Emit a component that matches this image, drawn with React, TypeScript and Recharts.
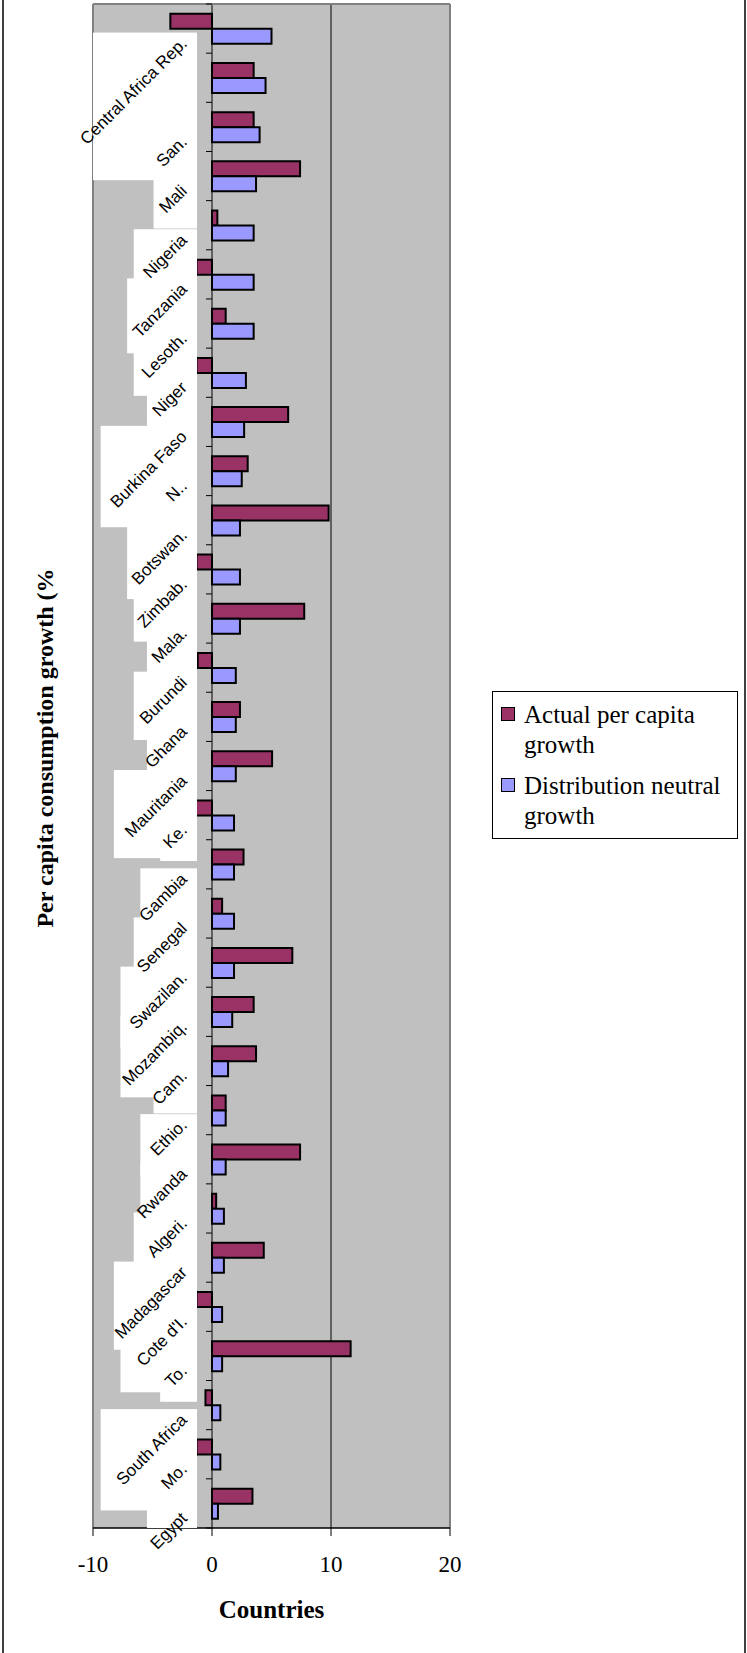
import React from 'react';
import { BarChart, Bar, XAxis, YAxis, CartesianGrid, ReferenceLine, Legend } from 'recharts';

// ---- data (top category first) ----
const tickLabels = [
  'Central Africa Rep.', '', 'San.', 'Mali', 'Nigeria', 'Tanzania', 'Lesoth.', 'Niger',
  'Burkina Faso', 'N..', 'Botswan.', 'Zimbab.', 'Mala.', 'Burundi', 'Ghana', 'Mauritania',
  'Ke.', 'Gambia', 'Senegal', 'Swazilan.', 'Mozambiq.', 'Cam.', 'Ethio.', 'Rwanda',
  'Algeri.', 'Madagascar', "Cote d'I.", 'To.', 'South Africa', 'Mo.', 'Egypt',
];
const actualGrowth = [
  -3.5, 3.5, 3.5, 7.4, 0.45, -1.3, 1.15, -1.3, 6.4, 3.0, 9.8, -1.3, 7.75, -1.2, 2.35, 5.05,
  -1.45, 2.65, 0.85, 6.75, 3.5, 3.7, 1.15, 7.4, 0.35, 4.35, -1.3, 11.65, -0.55, -1.3, 3.4,
];
const neutralGrowth = [
  5.0, 4.5, 4.0, 3.7, 3.5, 3.5, 3.5, 2.85, 2.7, 2.5, 2.35, 2.35, 2.35, 2.0, 2.0, 2.0,
  1.85, 1.85, 1.85, 1.85, 1.7, 1.35, 1.15, 1.15, 1.0, 1.0, 0.85, 0.85, 0.7, 0.7, 0.5,
];
const xTicks = [-10, 0, 10, 20];
const seriesNames = ['Actual per capita growth', 'Distribution neutral growth'];
const xTitle = 'Countries';
const yTitle = 'Per capita consumption growth (%';

const data = actualGrowth.map((a, i) => ({ idx: i, actual: a, neutral: neutralGrowth[i] }));

// ---- layout ----
const W = 747;
const H = 1653;
const Y_AXIS_W = 1;
const TOP_AXIS_H = 1;
const M = { top: 3, left: 93 - 2 * Y_AXIS_W, right: 297, bottom: 65 };
const X_AXIS_H = 60;
const X_MIN = -10;
const X_MAX = 20;
const PLOT_LEFT = M.left + 2 * Y_AXIS_W;
const PLOT_RIGHT = W - M.right;
const PLOT_TOP = M.top + TOP_AXIS_H;
const PLOT_BOTTOM = H - M.bottom - X_AXIS_H;
const ZERO_X = PLOT_LEFT + ((PLOT_RIGHT - PLOT_LEFT) * (0 - X_MIN)) / (X_MAX - X_MIN);
const BAND = (PLOT_BOTTOM - PLOT_TOP) / data.length;
const LBL_FONT = 17;
const LBL_END_X = ZERO_X - 24;
const BOX_RIGHT = ZERO_X - 15;
const C45 = Math.SQRT1_2;

const estWidth = (s: string) => s.length * LBL_FONT * 0.55;

const BoxTick = (props: any) => {
  const { y, payload } = props;
  const i = payload.value;
  const t = tickLabels[i] || '';
  const d = estWidth(t) * C45;
  const x0 = Math.max(PLOT_LEFT, LBL_END_X - d - 8);
  const y0 = y + 4;
  const y1 = Math.min(y + 16 + d + 10, PLOT_BOTTOM);
  const top = y - BAND / 2;
  return (
    <g>
      {t ? <rect x={x0} y={y0} width={BOX_RIGHT - x0} height={Math.max(0, y1 - y0)} fill="#ffffff" /> : null}
      <line x1={ZERO_X - 6} x2={ZERO_X} y1={top} y2={top} stroke="#000" strokeWidth={1} />
      {i === data.length - 1 ? (
        <line x1={ZERO_X - 6} x2={ZERO_X} y1={y + BAND / 2} y2={y + BAND / 2} stroke="#000" strokeWidth={1} />
      ) : null}
    </g>
  );
};

const LabelTick = (props: any) => {
  const { y, payload } = props;
  const t = tickLabels[payload.value] || '';
  const ay = y + 16;
  return (
    <text
      x={LBL_END_X}
      y={ay}
      transform={`rotate(-45 ${LBL_END_X} ${ay})`}
      textAnchor="end"
      fontFamily="'Liberation Sans', Arial, sans-serif"
      fontSize={LBL_FONT}
      fill="#000"
    >
      {t}
    </text>
  );
};

const LegendContent = (props: any) => {
  const items = props.payload || [];
  return (
    <div
      style={{
        width: 246,
        height: 148,
        border: '1px solid #000',
        background: '#fff',
        boxSizing: 'border-box',
        position: 'relative',
        fontFamily: "'Liberation Serif', 'Times New Roman', serif",
        fontSize: 25,
        lineHeight: '30px',
        color: '#000',
      }}
    >
      {items.map((it: any, k: number) => (
        <div key={k} style={{ position: 'absolute', left: 31, top: 8 + k * 71, width: 212 }}>
          <div
            style={{
              position: 'absolute',
              left: -23,
              top: 7,
              width: 12,
              height: 12,
              background: it.color,
              border: '1px solid #000',
            }}
          />
          {it.value}
        </div>
      ))}
    </div>
  );
};

export default function App() {
  return (
    <div style={{ position: 'relative', width: W, height: H, background: '#fff' }}>
      <style>{`body{margin:0;}`}</style>
      <BarChart
        width={W}
        height={H}
        data={data}
        layout="vertical"
        margin={M}
        barCategoryGap="20%"
        barGap={0}
      >
        <CartesianGrid
          yAxisId="labels"
          horizontal={false}
          vertical={true}
          stroke="#000"
          fill="#C0C0C0"
          fillOpacity={1}
        />
        <XAxis
          type="number"
          domain={[X_MIN, X_MAX]}
          ticks={xTicks}
          allowDataOverflow
          height={X_AXIS_H}
          tickSize={8}
          tickMargin={20}
          axisLine={{ stroke: '#000', strokeWidth: 1.5 }}
          tickLine={{ stroke: '#000' }}
          tick={{ fontSize: 23, fontFamily: "'Liberation Serif', 'Times New Roman', serif", fill: '#000' }}
        />
        <XAxis
          xAxisId="top"
          orientation="top"
          type="number"
          domain={[X_MIN, X_MAX]}
          height={TOP_AXIS_H}
          tick={false}
          tickLine={false}
          axisLine={{ stroke: '#808080', strokeWidth: 2 }}
        />
        <YAxis
          yAxisId="boxes"
          type="category"
          dataKey="idx"
          width={Y_AXIS_W}
          interval={0}
          axisLine={false}
          tickLine={false}
          tick={<BoxTick />}
        />
        <YAxis
          yAxisId="labels"
          type="category"
          dataKey="idx"
          width={Y_AXIS_W}
          interval={0}
          axisLine={false}
          tickLine={false}
          tick={<LabelTick />}
        />
        <ReferenceLine yAxisId="labels" x={-10} stroke="#808080" strokeWidth={2} />
        <ReferenceLine yAxisId="labels" x={20} stroke="#808080" strokeWidth={2} />
        <Bar
          yAxisId="labels"
          dataKey="actual"
          name={seriesNames[0]}
          fill="#993366"
          stroke="#000"
          strokeWidth={2}
          isAnimationActive={false}
        />
        <Bar
          yAxisId="labels"
          dataKey="neutral"
          name={seriesNames[1]}
          fill="#9999FF"
          stroke="#000"
          strokeWidth={2}
          isAnimationActive={false}
        />
        <Legend
          layout="horizontal"
          align="center"
          verticalAlign="middle"
          wrapperStyle={{ left: 492, top: 691, width: 246, height: 148 }}
          content={<LegendContent />}
        />
      </BarChart>
      <svg
        width={W}
        height={H}
        style={{ position: 'absolute', left: 0, top: 0, pointerEvents: 'none' }}
      >
        <line x1={3} x2={3} y1={0} y2={H} stroke="#404040" strokeWidth={2} />
        <line x1={745} x2={745} y1={0} y2={H} stroke="#404040" strokeWidth={2} />
        <text
          x={53}
          y={748}
          transform="rotate(-90 53 748)"
          textAnchor="middle"
          fontFamily="'Liberation Serif', 'Times New Roman', serif"
          fontWeight="bold"
          fontSize={24}
          fill="#000"
        >
          {yTitle}
        </text>
        <text
          x={(PLOT_LEFT + PLOT_RIGHT) / 2}
          y={1618}
          textAnchor="middle"
          fontFamily="'Liberation Serif', 'Times New Roman', serif"
          fontWeight="bold"
          fontSize={25}
          fill="#000"
        >
          {xTitle}
        </text>
      </svg>
    </div>
  );
}
